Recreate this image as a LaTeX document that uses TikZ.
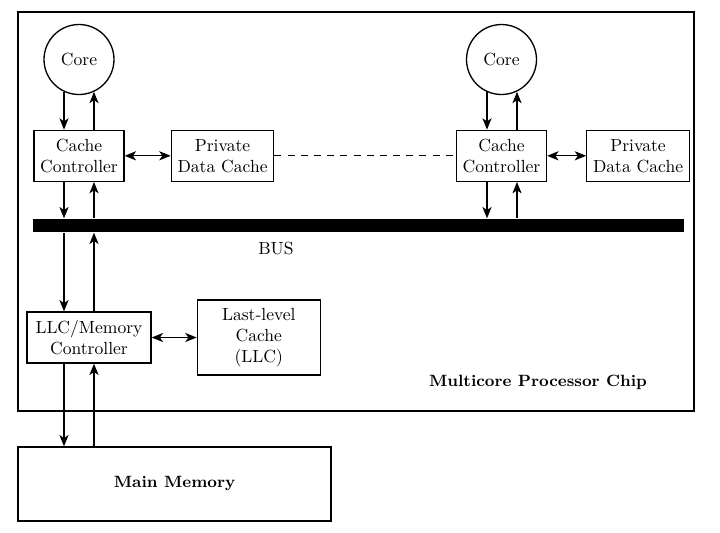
\documentclass[tikz,border=0pt]{standalone}
\usepackage{tikz}
\usetikzlibrary{arrows.meta,positioning,shapes}
\tikzset{%
	block/.style    = {draw, rectangle, align=center, minimum width=1.8cm, minimum height=1.02cm, inner sep=2pt},
	core/.style     = {draw, circle, minimum size=1.4cm, inner sep=0pt},
	busbar/.style   = {fill=black, rectangle, minimum width=13.02cm, minimum height=0.26cm, inner sep=0pt},
	label/.style    = {font=\fontsize{9.3}{11}\selectfont\bfseries},
	waypoint/.style = {coordinate},
}

\begin{document}
\begin{tikzpicture}[x=0.02cm,y=-0.02cm,>={Stealth[length=6.5pt,width=5.2pt,inset=1.8pt]},line width=0.75pt]
	\useasboundingbox (0,0) rectangle (720,532);
	\node [draw, line width=1pt, minimum width=13.52cm, minimum height=7.98cm] (chip) at (356,211.5) {};
	
	\node [core] (core1) at (79,59.5) {Core};
	\node [block, below=0.69cm of core1] (cc1) {Cache\\Controller};
	\node [block, minimum width=2.05cm, right=0.92cm of cc1] (pdc1) {Private\\Data Cache};
	\node [core] (core2) at (501.5,59.5) {Core};
	\node [block, below=0.69cm of core2] (cc2) {Cache\\Controller};
	\node [block, minimum width=2.05cm, right=0.78cm of cc2] (pdc2) {Private\\Data Cache};
	
	\node [busbar] (bus) at (358.5,225.5) {};
	\node (buslabel) at (276,248) {BUS};
	
	\node [block, minimum width=2.48cm] (llcmc) at (89,337.5) {LLC/Memory\\Controller};
	\node [block, minimum width=2.46cm, minimum height=1.5cm, right=0.9cm of llcmc] (llc) {Last-level\\Cache\\(LLC)};
	\node [block, minimum width=6.26cm, minimum height=1.48cm, label] (mem) at (174.5,484) {Main Memory};
	\node [label] (chiplabel) at (538,382) {Multicore Processor Chip};
	
	\node [waypoint] (dn1) at (64,0) {};
	\node [waypoint] (up1) at (94,0) {};
	\node [waypoint] (dn2) at (487,0) {};
	\node [waypoint] (up2) at (517,0) {};
	
	\draw[->] (dn1 |- core1.-115) -- (dn1 |- cc1.north);
	\draw[->] (up1 |- cc1.north) -- (up1 |- core1.-65);
	\draw[->] (dn1 |- cc1.south) -- (dn1 |- bus.north);
	\draw[->] (up1 |- bus.north) -- (up1 |- cc1.south);
	\draw[<->] (cc1) -- (pdc1);
	\draw[line width=0.6pt, dash pattern=on 4pt off 3.5pt] (pdc1) -- (cc2);
	
	\draw[->] (dn2 |- core2.-115) -- (dn2 |- cc2.north);
	\draw[->] (up2 |- cc2.north) -- (up2 |- core2.-65);
	\draw[->] (dn2 |- cc2.south) -- (dn2 |- bus.north);
	\draw[->] (up2 |- bus.north) -- (up2 |- cc2.south);
	\draw[<->] (cc2) -- (pdc2);
	
	\draw[->] (dn1 |- bus.south) -- (dn1 |- llcmc.north);
	\draw[->] (up1 |- llcmc.north) -- (up1 |- bus.south);
	\draw[<->] (llcmc) -- (llc);
	\draw[->] (dn1 |- llcmc.south) -- (dn1 |- mem.north);
	\draw[->] (up1 |- mem.north) -- (up1 |- llcmc.south);
\end{tikzpicture}
\end{document}
